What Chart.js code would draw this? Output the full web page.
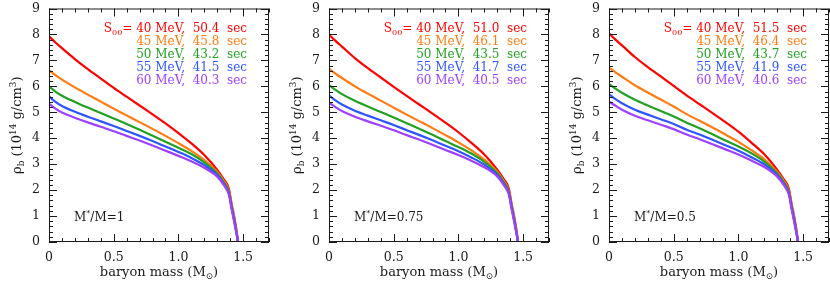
<!DOCTYPE html>
<html>
<head>
<meta charset="utf-8">
<script src="https://cdn.jsdelivr.net/npm/chart.js@4.4.1/dist/chart.umd.min.js"></script>
<style>
  html, body { margin: 0; padding: 0; background: #fff; overflow: hidden; }
  #wrap { position: relative; width: 830px; height: 283px; }
  .panel { position: absolute; top: 0; width: 280px; height: 283px; }
</style>
</head>
<body>
<div id="wrap">
  <div class="panel" style="left:0px"><canvas id="c0"></canvas></div>
  <div class="panel" style="left:280px"><canvas id="c1"></canvas></div>
  <div class="panel" style="left:560px"><canvas id="c2"></canvas></div>
</div>
<script>
// baryon mass grid (M_sun)
const massPts = [0, 0.05, 0.1, 0.2, 0.3, 0.4, 0.5, 0.6, 0.7, 0.8, 0.9, 1.0, 1.1, 1.2, 1.3, 1.35, 1.39, 1.41, 1.43, 1.45, 1.46];

const energies = [40, 45, 50, 55, 60];
const seriesColors = ['#ff0000', '#ff7a10', '#22a022', '#2f55ff', '#a040ff'];

const xTicks = [0, 0.5, 1, 1.5];
const yTicks = [0, 1, 2, 3, 4, 5, 6, 7, 8, 9];

const ratioLabels = ['1', '0.75', '0.5'];

// collapse times (sec) per panel, one per energy
const times1 = ['50.4', '45.8', '43.2', '41.5', '40.3'];
const times2 = ['51.0', '46.1', '43.5', '41.7', '40.5'];
const times3 = ['51.5', '46.4', '43.7', '41.9', '40.6'];

// density (10^14 g/cm^3), panel M*/M = 1
const red1    = [7.93, 7.69, 7.47, 7.05, 6.66, 6.30, 5.94, 5.60, 5.26, 4.92, 4.57, 4.20, 3.80, 3.35, 2.78, 2.42, 2.05, 1.50, 1.00, 0.40, 0];
const orange1 = [6.62, 6.43, 6.26, 5.96, 5.68, 5.41, 5.14, 4.88, 4.62, 4.36, 4.09, 3.81, 3.51, 3.16, 2.70, 2.36, 1.97, 1.45, 0.95, 0.40, 0];
const green1  = [6.00, 5.80, 5.64, 5.40, 5.18, 4.97, 4.76, 4.55, 4.33, 4.10, 3.86, 3.63, 3.39, 3.07, 2.64, 2.30, 1.92, 1.40, 0.90, 0.35, 0];
const blue1   = [5.61, 5.40, 5.24, 5.02, 4.83, 4.65, 4.47, 4.28, 4.09, 3.89, 3.68, 3.47, 3.24, 2.96, 2.58, 2.25, 1.87, 1.35, 0.85, 0.30, 0];
const purple1 = [5.33, 5.14, 4.99, 4.79, 4.61, 4.44, 4.27, 4.09, 3.91, 3.72, 3.52, 3.32, 3.11, 2.86, 2.52, 2.20, 1.82, 1.30, 0.80, 0.30, 0];

// panel M*/M = 0.75
const red2    = [7.99, 7.75, 7.53, 7.09, 6.70, 6.34, 5.98, 5.63, 5.29, 4.95, 4.60, 4.23, 3.82, 3.37, 2.79, 2.43, 2.05, 1.50, 1.00, 0.40, 0];
const orange2 = [6.68, 6.49, 6.32, 6.00, 5.72, 5.45, 5.18, 4.91, 4.65, 4.39, 4.12, 3.84, 3.53, 3.18, 2.71, 2.36, 1.97, 1.45, 0.95, 0.40, 0];
const green2  = [6.05, 5.86, 5.70, 5.44, 5.22, 5.01, 4.80, 4.58, 4.36, 4.13, 3.89, 3.66, 3.41, 3.09, 2.65, 2.30, 1.92, 1.40, 0.90, 0.35, 0];
const blue2   = [5.65, 5.46, 5.30, 5.06, 4.87, 4.69, 4.51, 4.31, 4.12, 3.92, 3.71, 3.50, 3.26, 2.98, 2.59, 2.25, 1.87, 1.35, 0.85, 0.30, 0];
const purple2 = [5.37, 5.20, 5.05, 4.83, 4.65, 4.48, 4.31, 4.12, 3.94, 3.75, 3.55, 3.35, 3.13, 2.88, 2.53, 2.20, 1.82, 1.30, 0.80, 0.30, 0];

// panel M*/M = 0.5
const red3    = [8.04, 7.80, 7.58, 7.13, 6.74, 6.38, 6.02, 5.65, 5.31, 4.97, 4.62, 4.25, 3.83, 3.38, 2.78, 2.42, 2.05, 1.50, 1.00, 0.40, 0];
const orange3 = [6.72, 6.54, 6.37, 6.04, 5.76, 5.49, 5.22, 4.93, 4.67, 4.41, 4.14, 3.86, 3.54, 3.19, 2.70, 2.36, 1.97, 1.45, 0.95, 0.40, 0];
const green3  = [6.09, 5.91, 5.75, 5.48, 5.26, 5.05, 4.84, 4.60, 4.38, 4.15, 3.91, 3.68, 3.42, 3.10, 2.64, 2.30, 1.92, 1.40, 0.90, 0.35, 0];
const blue3   = [5.70, 5.51, 5.35, 5.10, 4.91, 4.73, 4.55, 4.33, 4.14, 3.94, 3.73, 3.52, 3.27, 2.99, 2.58, 2.25, 1.87, 1.35, 0.85, 0.30, 0];
const purple3 = [5.41, 5.25, 5.10, 4.87, 4.69, 4.52, 4.35, 4.14, 3.96, 3.77, 3.57, 3.37, 3.14, 2.89, 2.52, 2.20, 1.82, 1.30, 0.80, 0.30, 0];

const panels = [
    { series: [red1, orange1, green1, blue1, purple1], times: times1, ratio: ratioLabels[0] },
    { series: [red2, orange2, green2, blue2, purple2], times: times2, ratio: ratioLabels[1] },
    { series: [red3, orange3, green3, blue3, purple3], times: times3, ratio: ratioLabels[2] }
];

const FONT = "'DejaVu Serif', serif";
const INK = '#1a1a1a';

// draw text made of pieces; piece.sub / piece.sup shrink and shift it
function richWidth(ctx, parts, size) {
    let w = 0;
    parts.forEach(p => {
        const s = (p.sub || p.sup) ? size * 0.68 : size;
        ctx.font = s + 'px ' + FONT;
        w += ctx.measureText(p.t).width;
    });
    return w;
}

function drawRich(ctx, parts, x, y, size, align) {
    let w = richWidth(ctx, parts, size);
    let cx = align === 'right' ? x - w : (align === 'center' ? x - w / 2 : x);
    ctx.textAlign = 'left';
    ctx.textBaseline = 'alphabetic';
    parts.forEach(p => {
        const s = (p.sub || p.sup) ? size * 0.68 : size;
        const dy = p.sub ? size * 0.25 : (p.sup ? -size * 0.4 : 0);
        ctx.font = s + 'px ' + FONT;
        ctx.fillText(p.t, cx, y + dy);
        cx += ctx.measureText(p.t).width;
    });
}

// frame with inward ticks on all four sides, plus titles / legend text
const decorPlugin = {
    id: 'decor',
    afterDraw(chart) {
        const ctx = chart.ctx;
        const a = chart.chartArea;
        const xs = chart.scales.x, ys = chart.scales.y;
        const info = chart.options.plugins.decor;
        ctx.save();
        ctx.strokeStyle = INK;
        ctx.lineWidth = 1;
        ctx.strokeRect(a.left + 0.5, a.top + 0.5, a.right - a.left - 1, a.bottom - a.top - 1);
        ctx.beginPath();
        for (let i = 0; i <= 17; i++) {
            const v = i / 10;
            const px = Math.round(xs.getPixelForValue(v)) + 0.5;
            const len = (i % 5 === 0) ? 8 : 4;
            ctx.moveTo(px, a.bottom); ctx.lineTo(px, a.bottom - len);
            ctx.moveTo(px, a.top); ctx.lineTo(px, a.top + len);
        }
        for (let i = 0; i <= 45; i++) {
            const v = i / 5;
            const py = Math.round(ys.getPixelForValue(v)) + 0.5;
            const len = (i % 5 === 0) ? 8 : 4;
            ctx.moveTo(a.left, py); ctx.lineTo(a.left + len, py);
            ctx.moveTo(a.right, py); ctx.lineTo(a.right - len, py);
        }
        ctx.stroke();

        ctx.fillStyle = INK;
        // x title
        drawRich(ctx, [{ t: 'baryon mass (M' }, { t: '⊙', sub: true }, { t: ')' }],
            (a.left + a.right) / 2, 276, 13, 'center');
        // y title (rotated)
        ctx.save();
        ctx.translate(21, (a.top + a.bottom) / 2);
        ctx.rotate(-Math.PI / 2);
        drawRich(ctx, [{ t: 'ρ' }, { t: 'b', sub: true }, { t: ' (10' }, { t: '14', sup: true },
            { t: ' g/cm' }, { t: '3', sup: true }, { t: ')' }], 0, 0, 13, 'center');
        ctx.restore();

        // legend
        const rowY = [32, 45, 58, 71, 84];
        energies.forEach((e, i) => {
            ctx.fillStyle = seriesColors[i];
            const tail = e + ' MeV,  ' + info.times[i] + '  sec';
            const parts = i === 0 ? [{ t: 'S' }, { t: '00', sub: true }, { t: '= ' + tail }] : [{ t: tail }];
            drawRich(ctx, parts, 247, rowY[i], 12, 'right');
        });

        // mass ratio label
        ctx.fillStyle = INK;
        drawRich(ctx, [{ t: 'M' }, { t: '*', sup: true }, { t: '/M=' + info.ratio }], 74, 221, 12, 'left');
        ctx.restore();
    }
};

function buildChart(id, panel) {
    const ctx = document.getElementById(id).getContext('2d');
    const datasets = panel.series.map((ys, i) => ({
        label: energies[i] + ' MeV',
        data: massPts.map((m, k) => ({ x: m, y: ys[k] })),
        borderColor: seriesColors[i],
        borderWidth: 2.2,
        pointRadius: 0,
        fill: false,
        cubicInterpolationMode: 'monotone'
    })).reverse();

    return new Chart(ctx, {
        type: 'line',
        data: { datasets: datasets },
        options: {
            responsive: true,
            maintainAspectRatio: false,
            animation: false,
            layout: { padding: { top: 5, right: 11, left: 0, bottom: 0 } },
            plugins: {
                legend: { display: false },
                tooltip: { enabled: false },
                decor: { times: panel.times, ratio: panel.ratio }
            },
            scales: {
                x: {
                    type: 'linear',
                    min: 0,
                    max: 1.7,
                    grid: { display: false },
                    border: { display: false },
                    afterBuildTicks: s => { s.ticks = xTicks.map(v => ({ value: v })); },
                    afterFit: s => { s.height = 41; },
                    ticks: { color: INK, padding: 0, maxRotation: 0, font: { family: FONT, size: 12.5 } }
                },
                y: {
                    min: 0,
                    max: 9,
                    grid: { display: false },
                    border: { display: false },
                    afterBuildTicks: s => { s.ticks = yTicks.map(v => ({ value: v })); },
                    afterFit: s => { s.width = 49; },
                    ticks: { color: INK, padding: 1, font: { family: FONT, size: 12.5 } }
                }
            }
        },
        plugins: [decorPlugin]
    });
}

panels.forEach((p, i) => buildChart('c' + i, p));
</script>
</body>
</html>
